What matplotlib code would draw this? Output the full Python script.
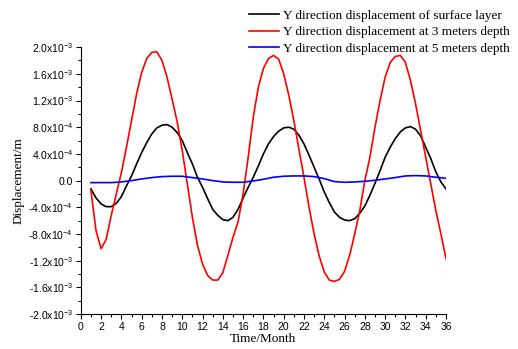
import matplotlib
matplotlib.use("Agg")
import matplotlib.pyplot as plt
from matplotlib.ticker import MultipleLocator, FixedLocator

# Months (half-month steps) for the surface and 3 m series
months_half = [1 + 0.5 * i for i in range(71)]

surface = [-0.125, -0.26, -0.35, -0.39, -0.39, -0.34, -0.24, -0.08, 0.07, 0.25,
           0.42, 0.57, 0.70, 0.79, 0.83, 0.84, 0.80, 0.72, 0.60, 0.42,
           0.25, 0.05, -0.10, -0.27, -0.43, -0.52, -0.585, -0.60, -0.55, -0.43,
           -0.26, -0.10, 0.05, 0.22, 0.40, 0.55, 0.66, 0.74, 0.79, 0.80,
           0.77, 0.68, 0.55, 0.38, 0.20, 0.02, -0.17, -0.33, -0.47, -0.55,
           -0.59, -0.60, -0.57, -0.49, -0.38, -0.22, -0.04, 0.15, 0.35, 0.50,
           0.63, 0.73, 0.79, 0.81, 0.77, 0.67, 0.50, 0.33, 0.13, -0.02,
           -0.125]

depth3 = [-0.15, -0.75, -1.02, -0.88, -0.52, -0.20, 0.12, 0.50, 0.90, 1.30,
          1.62, 1.83, 1.92, 1.93, 1.80, 1.55, 1.22, 0.88, 0.45, -0.05,
          -0.55, -0.97, -1.25, -1.42, -1.49, -1.49, -1.38, -1.12, -0.85, -0.62,
          -0.20, 0.35, 0.95, 1.40, 1.68, 1.83, 1.875, 1.82, 1.60, 1.28,
          0.90, 0.47, 0.05, -0.40, -0.80, -1.13, -1.37, -1.49, -1.51, -1.48,
          -1.36, -1.12, -0.80, -0.45, 0.0, 0.35, 0.80, 1.20, 1.55, 1.77,
          1.86, 1.875, 1.77, 1.50, 1.15, 0.75, 0.35, -0.05, -0.45, -0.80,
          -1.17]

# Monthly values for the 5 m series
months = list(range(1, 37))
depth5 = [-0.03, -0.03, -0.03, -0.02, 0.0, 0.025, 0.045, 0.06, 0.065, 0.065,
          0.045, 0.025, 0.0, -0.02, -0.025, -0.025, -0.005, 0.02, 0.05, 0.065,
          0.07, 0.07, 0.06, 0.03, -0.015, -0.025, -0.02, -0.01, 0.005, 0.025,
          0.045, 0.07, 0.075, 0.07, 0.05, 0.035]

scale = 1e-3  # values above are in units of 1e-3 m

series_labels = ["Y direction displacement of surface layer",
                 "Y direction displacement at 3 meters depth",
                 "Y direction displacement at 5 meters depth"]

ytick_vals = [2.0e-3, 1.6e-3, 1.2e-3, 8.0e-4, 4.0e-4, 0.0, -4.0e-4, -8.0e-4,
              -1.2e-3, -1.6e-3, -2.0e-3]
ytick_labels = [r"2.0x10$^{-3}$", r"1.6x10$^{-3}$", r"1.2x10$^{-3}$",
                r"8.0x10$^{-4}$", r"4.0x10$^{-4}$", "0.0",
                r"-4.0x10$^{-4}$", r"-8.0x10$^{-4}$", r"-1.2x10$^{-3}$",
                r"-1.6x10$^{-3}$", r"-2.0x10$^{-3}$"]
xticks = list(range(0, 37, 2))

plt.rcParams["mathtext.fontset"] = "custom"
plt.rcParams["mathtext.rm"] = "Liberation Sans"
plt.rcParams["mathtext.it"] = "Liberation Sans:italic"
plt.rcParams["mathtext.default"] = "regular"

fig = plt.figure(figsize=(5.18, 3.49), dpi=100)
ax = fig.add_axes([0.156, 0.100, 0.705, 0.765])

l1, = ax.plot(months_half, [v * scale for v in surface], color="black", lw=1.2)
l2, = ax.plot(months_half, [v * scale for v in depth3], color="#ff0000", lw=1.2)
l3, = ax.plot(months, [v * scale for v in depth5], color="#0000ff", lw=1.2)

ax.set_xlim(0, 36)
ax.set_ylim(-2.0e-3, 2.0e-3)
ax.spines["top"].set_visible(False)
ax.spines["right"].set_visible(False)

ax.xaxis.set_major_locator(FixedLocator(xticks))
ax.xaxis.set_minor_locator(MultipleLocator(1))
ax.set_xticklabels([str(t) for t in xticks], fontfamily="Liberation Sans", fontsize=7.5)
ax.yaxis.set_major_locator(FixedLocator(ytick_vals))
ax.yaxis.set_minor_locator(MultipleLocator(2e-4))
ax.set_yticklabels(ytick_labels, fontfamily="Liberation Sans", fontsize=7.5)
ax.tick_params(which="major", direction="out", length=3.5, width=0.8, pad=2)
ax.tick_params(which="minor", direction="out", length=2, width=0.8)

ax.set_xlabel("Time/Month", fontfamily="Liberation Serif", fontsize=9.5, labelpad=1)
ax.set_ylabel("Displacement/m", fontfamily="Liberation Serif", fontsize=9.5, labelpad=3)

fig.legend([l1, l2, l3], series_labels, loc="upper right",
           bbox_to_anchor=(1.0, 0.995), frameon=False,
           prop={"family": "Liberation Serif", "size": 9.5},
           handlelength=2.3, handletextpad=0.3, labelspacing=0.32,
           borderaxespad=0.2)

fig.savefig("out.png", dpi=100)
